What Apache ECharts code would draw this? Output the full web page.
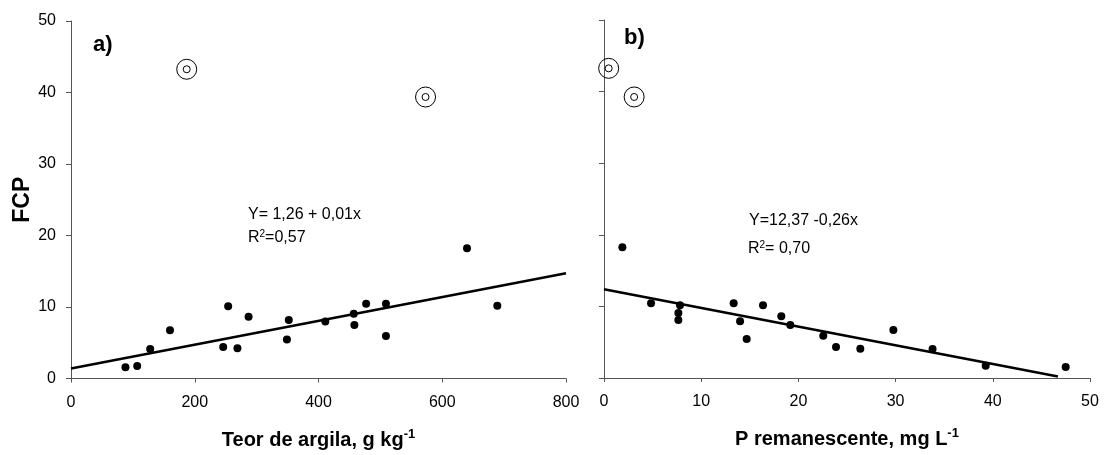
<!DOCTYPE html>
<html>
<head>
<meta charset="utf-8">
<script src="https://cdn.jsdelivr.net/npm/echarts@6/dist/echarts.min.js"></script>
<style>
html,body{margin:0;padding:0;background:#fff;}
#c{width:1109px;height:455px;}
</style>
</head>
<body>
<div id="c"></div>
<script>
// ---- Panel a) : clay content vs FCP ----
const clayX   = [88, 107, 128, 160, 246, 254, 269, 287, 349, 352, 411, 457, 458, 477, 509, 509, 640, 689];
const fcpA    = [1.58, 1.76, 4.12, 6.75, 4.39, 10.12, 4.22, 8.65, 5.46, 8.18, 7.96, 9.07, 7.49, 10.45, 10.45, 5.96, 18.21, 10.17];
const clayOutX = [187, 573];
const fcpAOut  = [43.25, 39.37];
const fitAX = [0, 800];
const fitAY = [1.39, 14.72];

// ---- Panel b) : remaining P vs FCP ----
const pRemX  = [1.89, 4.84, 7.82, 7.65, 7.65, 13.34, 14.0, 14.68, 16.36, 18.24, 19.17, 22.56, 23.87, 26.37, 29.77, 33.8, 39.27, 47.5];
const fcpB   = [18.25, 10.43, 10.15, 9.08, 8.1, 10.43, 7.92, 5.45, 10.15, 8.62, 7.4, 5.91, 4.33, 4.09, 6.7, 4.05, 1.72, 1.54];
const pRemOutX = [0.48, 3.1];
const fcpBOut  = [43.25, 39.25];
const fitBX = [0, 46.7];
const fitBY = [12.4, 0.2];

// axis scales
const xAMin = 0, xAMax = 800, xAStep = 200;
const xBMin = 0, xBMax = 50, xBStep = 10;
const yMin = 0, yMax = 50, yStep = 10;

const FONT = 'Arial, "Liberation Sans", sans-serif';
const AXC = '#555';

function zip(a, b) { return a.map((v, i) => [v, b[i]]); }

const chart = echarts.init(document.getElementById('c'), null, {renderer: 'canvas'});

function xAxis(idx, min, max, step, name) {
  return {
    type: 'value', gridIndex: idx, min: min, max: max, interval: step,
    axisLine: {show: true, onZero: false, lineStyle: {color: AXC, width: 1}},
    axisTick: {show: true, length: 4, lineStyle: {color: AXC}},
    axisLabel: {color: '#000', fontFamily: FONT, fontSize: 16, margin: 16},
    splitLine: {show: false},
    name: name, nameLocation: 'middle', nameGap: 49,
    nameTextStyle: {
      fontFamily: FONT,
      rich: {
        b: {fontFamily: FONT, fontSize: 20, fontWeight: 'bold', color: '#000'},
        s: {fontFamily: FONT, fontSize: 13, fontWeight: 'bold', color: '#000', padding: [0, 0, 12, 0]}
      }
    }
  };
}
function yAxis(idx, showLabels, name) {
  return {
    type: 'value', gridIndex: idx, min: yMin, max: yMax, interval: yStep,
    axisLine: {show: true, onZero: false, lineStyle: {color: AXC, width: 1}},
    axisTick: {show: true, length: 5, lineStyle: {color: AXC}},
    axisLabel: {show: showLabels, color: '#000', fontFamily: FONT, fontSize: 16, margin: 15},
    splitLine: {show: false},
    name: name, nameLocation: 'middle', nameGap: 37, nameRotate: 90,
    nameTextStyle: {fontFamily: FONT, fontSize: 23, fontWeight: 'bold', color: '#000'}
  };
}

function dots(ax, xs, ys) {
  return {
    type: 'scatter', xAxisIndex: ax, yAxisIndex: ax, data: zip(xs, ys),
    symbol: 'circle', symbolSize: 8, itemStyle: {color: '#000', opacity: 1}, z: 3, silent: true
  };
}
function rings(ax, xs, ys, size) {
  return {
    type: 'scatter', xAxisIndex: ax, yAxisIndex: ax, data: zip(xs, ys),
    symbol: 'circle', symbolSize: size,
    itemStyle: {color: 'rgba(0,0,0,0)', borderColor: '#000', borderWidth: 1, opacity: 1},
    z: 4, silent: true
  };
}
function fit(ax, xs, ys) {
  return {
    type: 'line', xAxisIndex: ax, yAxisIndex: ax, data: zip(xs, ys),
    symbol: 'none', lineStyle: {color: '#000', width: 2.6}, z: 2, silent: true, animation: false
  };
}

chart.setOption({
  animation: false,
  backgroundColor: '#fff',
  grid: [
    {left: 71, top: 21, width: 495, height: 360.7},
    {left: 604, top: 20, width: 486, height: 358}
  ],
  xAxis: [
    xAxis(0, xAMin, xAMax, xAStep, '{b|Teor de argila, g kg}{s|-1}'),
    xAxis(1, xBMin, xBMax, xBStep, '{b|P remanescente, mg L}{s|-1}')
  ],
  yAxis: [
    yAxis(0, true, 'FCP'),
    yAxis(1, false, '')
  ],
  series: [
    fit(0, fitAX, fitAY),
    dots(0, clayX, fcpA),
    rings(0, clayOutX, fcpAOut, 20),
    rings(0, clayOutX, fcpAOut, 7),
    fit(1, fitBX, fitBY),
    dots(1, pRemX, fcpB),
    rings(1, pRemOutX, fcpBOut, 20),
    rings(1, pRemOutX, fcpBOut, 7)
  ],
  graphic: [
    {type: 'text', left: 93, top: 34, style: {text: 'a)', fontFamily: FONT, fontSize: 22, fontWeight: 'bold', fill: '#000'}},
    {type: 'text', left: 624, top: 27, style: {text: 'b)', fontFamily: FONT, fontSize: 22, fontWeight: 'bold', fill: '#000'}},
    {type: 'text', left: 248, top: 207, style: {text: 'Y= 1,26 + 0,01x', fontFamily: FONT, fontSize: 16, fill: '#000'}},
    {type: 'text', left: 248, top: 229, style: {
      text: '{n|R}{s|2}{n|=0,57}',
      rich: {n: {fontFamily: FONT, fontSize: 16, fill: '#000'}, s: {fontFamily: FONT, fontSize: 10, fill: '#000', padding: [0, 0, 8, 0]}}
    }},
    {type: 'text', left: 749, top: 213, style: {text: 'Y=12,37 -0,26x', fontFamily: FONT, fontSize: 16, fill: '#000'}},
    {type: 'text', left: 748, top: 240, style: {
      text: '{n|R}{s|2}{n|= 0,70}',
      rich: {n: {fontFamily: FONT, fontSize: 16, fill: '#000'}, s: {fontFamily: FONT, fontSize: 10, fill: '#000', padding: [0, 0, 8, 0]}}
    }}
  ]
});
</script>
</body>
</html>
